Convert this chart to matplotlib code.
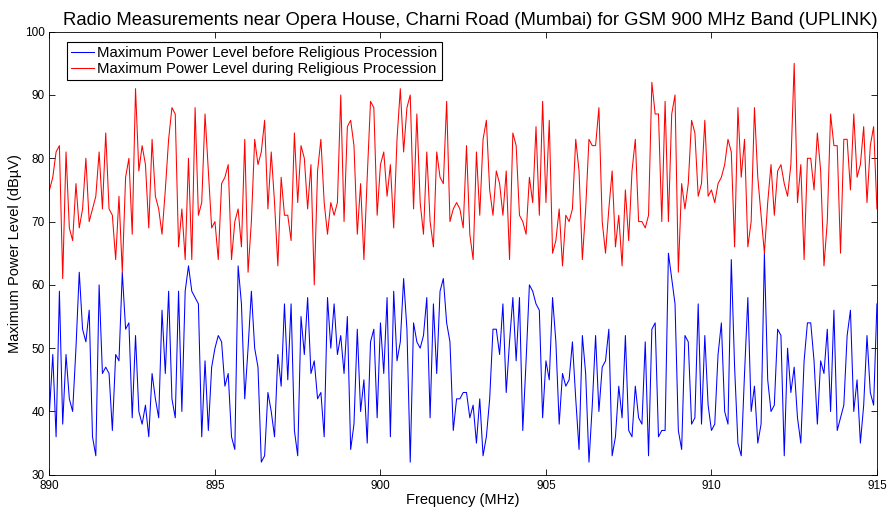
import numpy as np
import matplotlib
matplotlib.use("Agg")
import matplotlib.pyplot as plt

# Frequencies 890..915 MHz in 0.1 MHz steps
freq = np.linspace(890, 915, 251)

# Maximum power level (dBuV) before procession
before = [
    40, 49, 36, 59,
    38, 49, 42, 40, 50, 62, 53, 51, 56, 36,
    33, 60, 46, 47, 46, 37, 49, 48, 62, 53,
    54, 39, 52, 40, 38, 41, 36, 46, 42, 39,
    56, 46, 59, 42, 39, 59, 40, 59, 63, 59,
    58, 57,
    36, 48, 37, 47, 50, 52, 51, 44, 46, 36,
    34, 63, 57, 42, 50, 59, 50, 47, 32, 33,
    43, 40, 36, 49, 44, 57, 45, 57, 37, 33,
    55, 49, 58, 46, 48, 42, 43, 36, 58, 50,
    57,
    49, 52, 46, 55, 34, 38, 53, 40, 45, 35,
    51, 53, 39, 54, 46, 58, 36, 59, 48, 51,
    61, 53, 32, 54, 51, 50, 52, 58, 39, 57,
    46, 59, 61, 54, 51, 37, 42, 42, 43, 43,
    39,
    41, 35, 42, 33, 36, 42, 53, 53, 49, 57,
    43, 51, 58, 48, 58, 37, 48, 60, 59, 57,
    56, 39, 48, 45, 58, 51, 38, 46, 44, 45,
    51, 42, 34, 52, 46, 32, 41, 52, 40, 47,
    48,
    53, 33, 36, 44, 39, 52, 37, 36, 44, 39,
    38, 51, 33, 53, 54, 36, 37, 37, 65, 61,
    57, 37, 34, 52, 51, 38, 39, 57, 38, 52,
    41, 37, 38, 49, 54, 40, 38, 64, 47,
    35, 33, 46, 58, 40, 44, 35, 38, 65, 45,
    40, 41, 53, 52, 33, 50, 43, 47, 39, 35,
    48, 54, 54, 48, 38, 48, 46, 53, 40, 56,
    37, 39, 41, 52, 56, 40, 45, 35, 41, 52,
    43, 41, 57,
]

# Maximum power level (dBuV) during procession
during = [
    75, 77, 81, 82,
    61, 81, 69, 67, 76, 69, 72, 80, 70, 72,
    74, 81, 72, 84, 72, 71, 64, 74, 62, 77,
    80, 68, 91, 78, 82, 79, 69, 83, 74, 72,
    68, 75, 83, 88, 87, 66, 72, 64, 80, 64,
    88, 71,
    73, 87, 78, 69, 70, 64, 76, 77, 79, 64,
    70, 72, 66, 83, 62, 70, 83, 79, 81, 86,
    72, 81, 73, 63, 77, 71, 71, 67, 84, 73,
    82, 80, 72, 79, 60, 78, 83, 73, 68, 73,
    71,
    73, 90, 70, 85, 86, 82, 68, 76, 64, 77,
    89, 88, 71, 79, 81, 74, 79, 69, 83, 91,
    81, 88, 90, 72, 87, 73, 68, 81, 70, 66,
    81, 77, 76, 89, 70, 72, 73, 72, 69, 82,
    68,
    64, 81, 71, 83, 86, 75, 71, 78, 76, 71,
    78, 64, 84, 82, 71, 70, 68, 77, 73, 85,
    71, 89, 73, 86, 65, 67, 72, 63, 71, 70,
    72, 83, 78, 64, 72, 83, 82, 82, 88, 70,
    65,
    72, 78, 66, 71, 63, 75, 67, 78, 83, 70,
    70, 69, 71, 92, 87, 87, 70, 89, 70, 87,
    90, 62, 76, 72, 76, 86, 84, 74, 76, 86,
    74, 75, 73, 76, 77, 79, 83, 81, 66, 88,
    77, 83, 66, 70, 88, 77, 71, 65, 73, 79,
    71, 78, 79, 76, 74, 79, 95, 73, 79, 64,
    80, 80, 75, 84, 78, 63, 70, 87, 82, 82,
    65, 83, 83, 75, 87, 77, 79, 85, 73, 82,
    85, 72,
]

x_ticks = [890, 895, 900, 905, 910, 915]
y_ticks = [30, 40, 50, 60, 70, 80, 90, 100]

plt.rcParams['font.family'] = ['Liberation Sans', 'DejaVu Sans']

fig = plt.figure(figsize=(8.93, 5.08), dpi=100)
ax = fig.add_axes([0.0554, 0.0654, 0.9266, 0.8722])

ax.plot(freq, before, color=(0, 0, 1), lw=0.75,
        label='Maximum Power Level before Religious Procession')
ax.plot(freq, during, color=(1, 0, 0), lw=0.75,
        label='Maximum Power Level during Religious Procession')

ax.set_xlim(890, 915)
ax.set_ylim(30, 100)
ax.set_xticks(x_ticks)
ax.set_yticks(y_ticks)
ax.tick_params(direction='in', length=4, width=0.6, labelsize=8.5,
               top=True, right=True)
for s in ax.spines.values():
    s.set_linewidth(0.6)

ax.set_title('Radio Measurements near Opera House, Charni Road (Mumbai) for GSM 900 MHz Band (UPLINK)',
             fontsize=13.3, pad=5, x=0.509)
ax.set_xlabel('Frequency (MHz)', fontsize=10.5, labelpad=1)
ax.set_ylabel('Maximum Power Level (dB\u00b5V)', fontsize=10.5, labelpad=2)

leg = ax.legend(loc='upper left', bbox_to_anchor=(0.021, 0.977), borderaxespad=0,
                fontsize=10.7, fancybox=False, framealpha=1, edgecolor='black',
                handlelength=1.5, borderpad=0.3, labelspacing=0.1, handletextpad=0.25)
leg.get_frame().set_linewidth(0.8)

fig.savefig('out.png', dpi=100)
